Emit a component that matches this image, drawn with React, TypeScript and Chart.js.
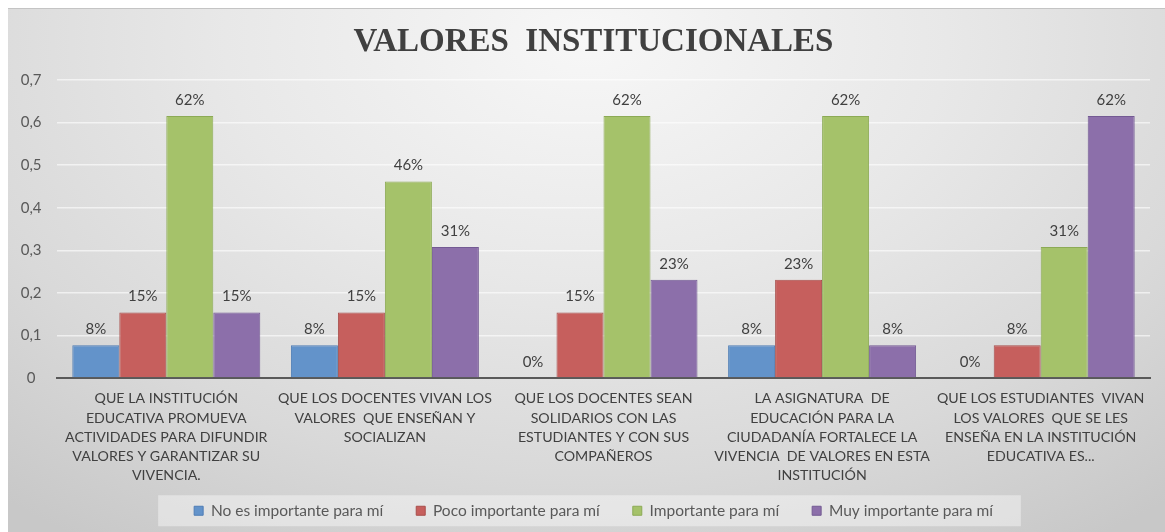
import { useEffect, useRef } from "react";
import { Chart, registerables } from "chart.js";

Chart.register(...registerables);

const titleText = "VALORES  INSTITUCIONALES";

const categories: string[][] = [
  ["QUE LA INSTITUCIÓN", "EDUCATIVA PROMUEVA", "ACTIVIDADES PARA DIFUNDIR", "VALORES Y GARANTIZAR SU", "VIVENCIA."],
  ["QUE LOS DOCENTES VIVAN LOS", "VALORES  QUE ENSEÑAN Y", "SOCIALIZAN"],
  ["QUE LOS DOCENTES SEAN", "SOLIDARIOS CON LAS", "ESTUDIANTES Y CON SUS", "COMPAÑEROS"],
  ["LA ASIGNATURA  DE", "EDUCACIÓN PARA LA", "CIUDADANÍA FORTALECE LA", "VIVENCIA  DE VALORES EN ESTA", "INSTITUCIÓN"],
  ["QUE LOS ESTUDIANTES  VIVAN", "LOS VALORES  QUE SE LES", "ENSEÑA EN LA INSTITUCIÓN", "EDUCATIVA ES..."],
];

const seriesNames = [
  "No es importante para mí",
  "Poco importante para mí",
  "Importante para mí",
  "Muy importante para mí",
];

const noImportante = [0.0769, 0.0769, 0, 0.0769, 0];
const pocoImportante = [0.1538, 0.1538, 0.1538, 0.2308, 0.0769];
const importante = [0.6154, 0.4615, 0.6154, 0.6154, 0.3077];
const muyImportante = [0.1538, 0.3077, 0.2308, 0.0769, 0.6154];

const fillColors = ["#6393CA", "#C65F5D", "#A5C26A", "#8C6FAA"];
const edgeColors = ["#4F7DB5", "#A84E4B", "#8CAA55", "#735A93"];

const yMax = 0.7;
const yStep = 0.1;

const valueLabels = {
  id: "valueLabels",
  afterDatasetsDraw(chart: any) {
    const ctx = chart.ctx;
    ctx.save();
    ctx.font = "15px Lato";
    ctx.fillStyle = "#404040";
    ctx.textAlign = "center";
    ctx.textBaseline = "middle";
    chart.data.datasets.forEach((ds: any, i: number) => {
      const meta = chart.getDatasetMeta(i);
      meta.data.forEach((bar: any, j: number) => {
        const v = ds.data[j] as number;
        ctx.fillText(Math.round(v * 100) + "%", bar.x, bar.y - 16);
      });
    });
    ctx.restore();
  },
};

const legendBox = {
  id: "legendBox",
  beforeDraw(chart: any) {
    const hb = chart.legend && chart.legend.legendHitBoxes;
    if (!hb || !hb.length) return;
    const ctx = chart.ctx;
    const left = Math.min(...hb.map((h: any) => h.left)) - 36;
    const right = Math.max(...hb.map((h: any) => h.left + h.width)) + 28;
    const cy = hb[0].top + hb[0].height / 2;
    ctx.save();
    ctx.fillStyle = "rgba(255,255,255,0.4)";
    ctx.fillRect(left, cy - 15.5, right - left, 31);
    ctx.restore();
  },
};

export default function App() {
  const canvasRef = useRef<HTMLCanvasElement | null>(null);

  useEffect(() => {
    if (!canvasRef.current) return;
    const series = [noImportante, pocoImportante, importante, muyImportante];
    const chart = new Chart(canvasRef.current, {
      type: "bar",
      data: {
        labels: categories,
        datasets: series.map((d, i) => ({
          label: seriesNames[i],
          data: d,
          backgroundColor: fillColors[i],
          borderColor: edgeColors[i],
          borderWidth: 1,
          categoryPercentage: 0.86,
          barPercentage: 1.0,
        })),
      },
      options: {
        animation: false,
        responsive: true,
        maintainAspectRatio: false,
        layout: { padding: { left: 29, right: 15, top: 0, bottom: 3.5 } },
        plugins: {
          title: {
            display: true,
            text: titleText,
            color: "#404040",
            font: { family: "'Liberation Serif', 'Times New Roman', serif", size: 33, weight: "bold", lineHeight: 1.2 },
            padding: { top: 15, bottom: 17.4 },
          },
          legend: {
            display: true,
            position: "bottom",
            labels: {
              boxWidth: 9,
              boxHeight: 9,
              padding: 33,
              color: "#595959",
              font: { family: "Lato", size: 15.5 },
            },
          },
          tooltip: { enabled: false },
        },
        scales: {
          x: {
            grid: { display: true, color: "rgba(0,0,0,0)", drawTicks: false },
            border: { display: true, color: "#595959", width: 2 },
            ticks: {
              color: "#404040",
              font: { family: "Lato", size: 14.2, lineHeight: 1.36 },
              padding: 11,
              autoSkip: false,
              maxRotation: 0,
              minRotation: 0,
            },
            afterFit: (scale: any) => {
              scale.height = 92;
              scale.paddingLeft = 0;
              scale.paddingRight = 0;
              scale._computeLabelArea = () => null;
            },
          },
          y: {
            min: 0,
            max: yMax,
            grid: {
              drawTicks: false,
              color: (c: any) => (c.tick && c.tick.value === 0 ? "rgba(0,0,0,0)" : "rgba(255,255,255,0.6)"),
              lineWidth: 1.5,
            },
            border: { display: false },
            ticks: {
              stepSize: yStep,
              color: "#595959",
              font: { family: "Lato", size: 15 },
              crossAlign: "center",
              padding: 15.5,
              callback: (v: any) => (Number(v) === 0 ? "0" : Number(v).toFixed(1).replace(".", ",")),
            },
            afterFit: (scale: any) => {
              scale.width = 20;
              scale._computeLabelArea = () => null;
            },
          },
        },
      } as any,
      plugins: [valueLabels, legendBox],
    });
    return () => chart.destroy();
  }, []);

  return (
    <div
      style={{
        position: "absolute",
        left: 8,
        top: 8,
        width: 1157,
        height: 524,
        background:
          "radial-gradient(ellipse 78% 115% at 50% 6%, #f7f7f7 0%, #e8e8e8 40%, #d9d9d9 72%, #c8c8c8 100%)",
        boxShadow: "inset 0 1px 0 #c4c4c4",
      }}
    >
      <canvas ref={canvasRef} />
    </div>
  );
}
